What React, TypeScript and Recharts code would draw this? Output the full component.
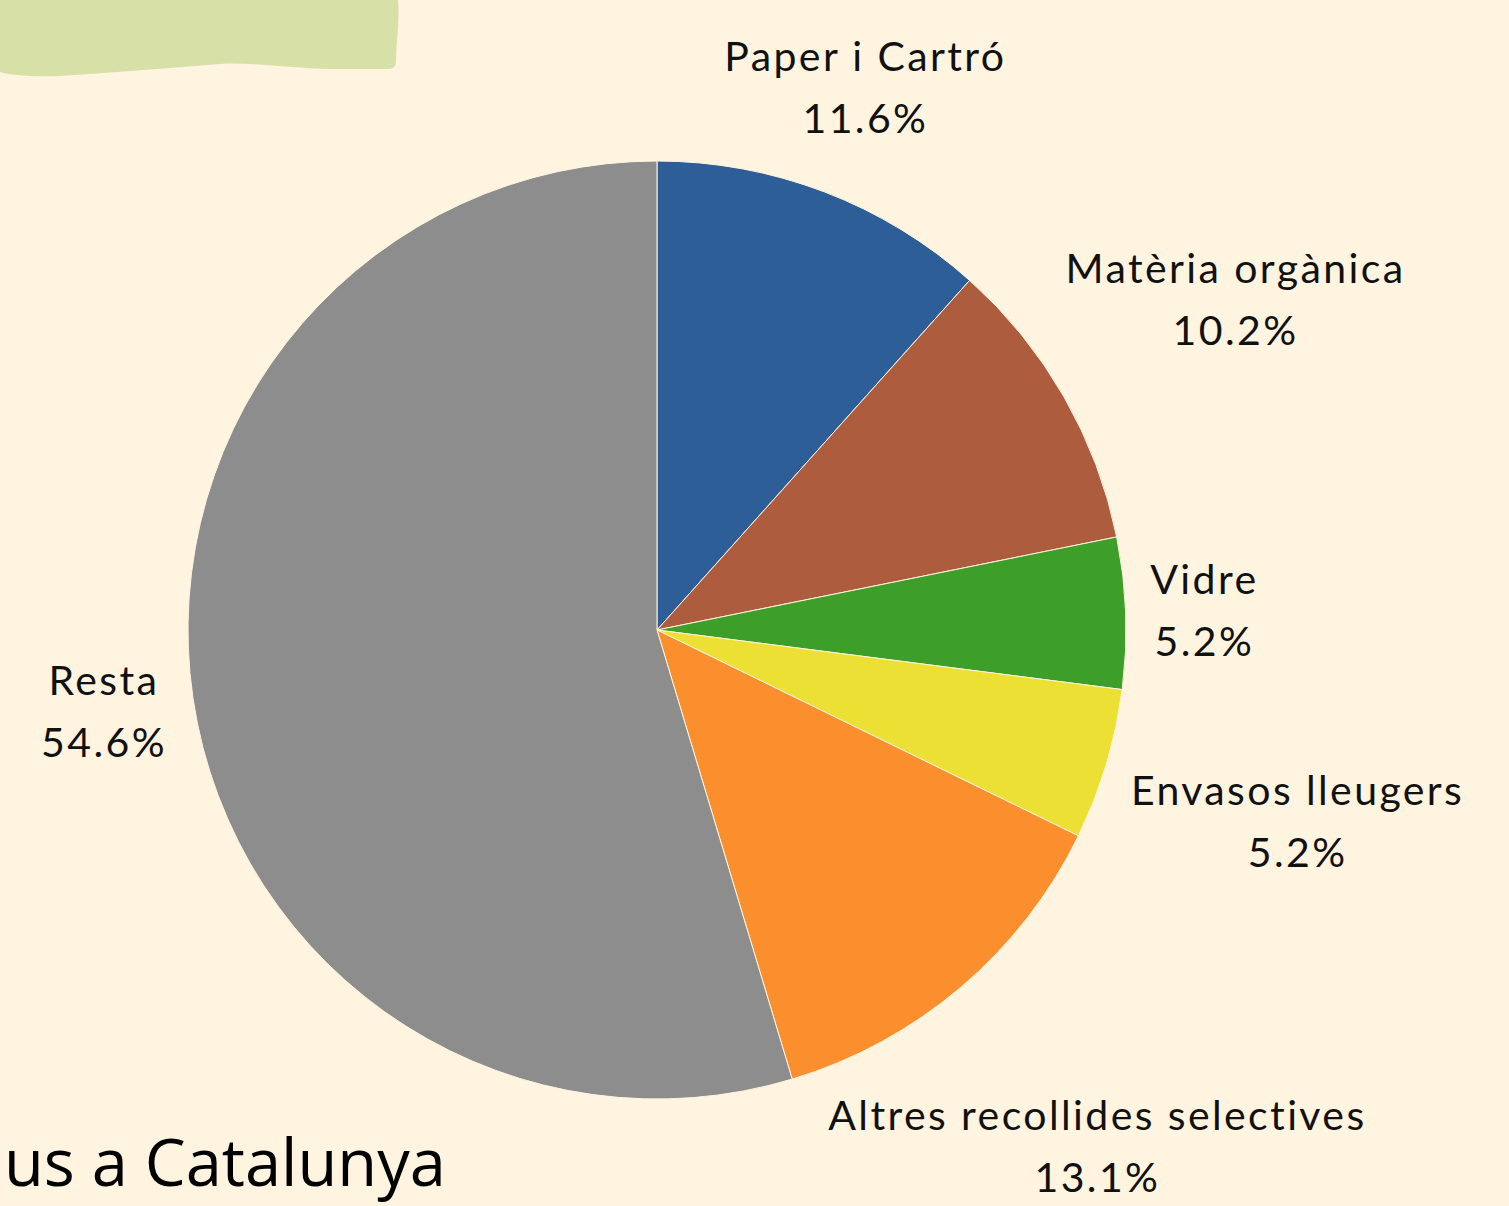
import React from 'react';
import { PieChart, Pie, Cell } from 'recharts';

const categories = [
  'Paper i Cartró',
  'Matèria orgànica',
  'Vidre',
  'Envasos lleugers',
  'Altres recollides selectives',
  'Resta',
];
const values = [11.6, 10.2, 5.2, 5.2, 13.1, 54.6];
const colors = ['#2E5E98', '#AD5C3E', '#3D9E2A', '#EBE033', '#FB8F2D', '#8D8D8D'];

const data = categories.map((name, i) => ({ name, value: values[i] }));

const BG = '#FFF4DF';
const W = 1509;
const H = 1206;
const LABEL_FONT = 'Lato, "Noto Sans", sans-serif';
const LABEL_SIZE = 41;
const LETTER = 2.4;
const LINE_GAP = 62;
const CAP = 29;

let ctx: CanvasRenderingContext2D | null = null;
function measure(t: string): number {
  if (!ctx) {
    const c = document.createElement('canvas');
    ctx = c.getContext('2d');
  }
  if (!ctx) return t.length * 20;
  ctx.font = `${LABEL_SIZE}px ${LABEL_FONT}`;
  return ctx.measureText(t).width + LETTER * t.length;
}

const renderLabel = (props: any) => {
  const { cx, cy, midAngle, outerRadius, name, value } = props;
  const rad = (-midAngle * Math.PI) / 180;
  const dx = Math.cos(rad);
  const dy = Math.sin(rad);
  const pct = `${Number(value).toFixed(1)}%`;
  const hw = Math.max(measure(name), measure(pct)) / 2;
  const hh = 55;
  const target = outerRadius + 23;
  const dist = (t: number) => {
    const x = dx * t;
    const y = dy * t;
    const nx = Math.max(x - hw, Math.min(0, x + hw));
    const ny = Math.max(y - hh, Math.min(0, y + hh));
    return Math.hypot(nx, ny);
  };
  let lo = 0;
  let hi = outerRadius + 1200;
  for (let k = 0; k < 60; k++) {
    const mid = (lo + hi) / 2;
    if (dist(mid) < target) lo = mid;
    else hi = mid;
  }
  const t = (lo + hi) / 2;
  const x = cx + dx * t + LETTER / 2;
  const y = cy + dy * t;
  return (
    <text
      textAnchor="middle"
      fontFamily={LABEL_FONT}
      fontSize={LABEL_SIZE}
      letterSpacing={LETTER}
      fill="#111111"
    >
      <tspan x={x} y={y - LINE_GAP / 2 + CAP / 2}>{name}</tspan>
      <tspan x={x} y={y + LINE_GAP / 2 + CAP / 2}>{pct}</tspan>
    </text>
  );
};

export default function App() {
  return (
    <div style={{ position: 'fixed', left: 0, top: 0, width: W, height: H, background: BG, overflow: 'hidden' }}>
      <svg width={W} height={H} style={{ position: 'absolute', left: 0, top: 0 }}>
        <path
          d="M0,0 L398,0 C400,20 396,40 396,62 Q396,69 388,69 L330,69 C290,68 250,62 220,64 C170,68 120,72 60,76 C30,77 10,75 0,72 Z"
          fill="#D6E0A7"
        />
        <text x={4} y={1186} textAnchor="start" fontFamily='"Open Sans", sans-serif' fontSize={65} fill="#000">
          us a Catalunya
        </text>
      </svg>
      <div style={{ position: 'absolute', left: 0, top: 0 }}>
        <PieChart width={W} height={H}>
          <Pie
            data={data}
            dataKey="value"
            nameKey="name"
            cx={652}
            cy={625}
            outerRadius={469}
            startAngle={90}
            endAngle={-270}
            stroke={BG}
            strokeWidth={1}
            label={renderLabel}
            labelLine={false}
            isAnimationActive={false}
          >
            {data.map((d, i) => (
              <Cell key={d.name} fill={colors[i]} />
            ))}
          </Pie>
        </PieChart>
      </div>
    </div>
  );
}
